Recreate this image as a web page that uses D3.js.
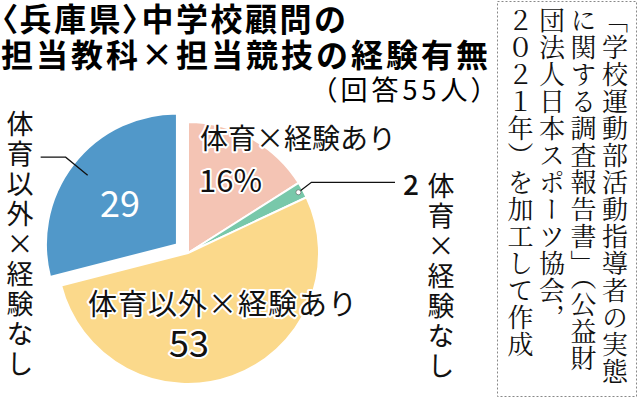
<!DOCTYPE html>
<html>
<head>
<meta charset="utf-8">
<script src="https://cdn.jsdelivr.net/npm/d3@7"></script>
<style>
  body { margin: 0; background: #fff; }
  text { font-family: "Noto Sans CJK JP", sans-serif; }
</style>
</head>
<body>
<script>
// slices, clockwise from 12 o'clock
var categories = ["体育×経験あり", "体育×経験なし", "体育以外×経験あり", "体育以外×経験なし"];
var values = [16, 2, 53, 29];
var valueLabels = ["16%", "2", "53", "29"];
var colors = ["#f4c4b4", "#78c8aa", "#fbd98b", "#5198c9"];

var titleLines = ["〈兵庫県〉中学校顧問の", "担当教科×担当競技の経験有無"];
var subtitle = "（回答55人）";
var sourceLines = ["「学校運動部活動指導者の実態", "に関する調査報告書」（公益財", "団法人日本スポーツ協会，", "２０２１年）を加工して作成"];

var width = 639;
var height = 398;
var radius = 131;
var cx = 188, cy = 253;

var svg = d3.select("body").append("svg")
    .attr("width", width)
    .attr("height", height);

// title
svg.selectAll(".title")
    .data(titleLines)
    .enter().append("text")
    .attr("class", "title")
    .attr("x", 1)
    .attr("y", function(d, i) { return 31 + i * 36; })
    .style("font-size", "32px")
    .style("font-weight", "bold")
    .style("letter-spacing", function(d, i) { return i == 0 ? "2.5px" : "3px"; })
    .style("font-feature-settings", function(d, i) { return i == 0 ? "'palt'" : "normal"; })
    .text(function(d) { return d; });

svg.append("text")
    .attr("x", 489)
    .attr("y", 100)
    .attr("text-anchor", "end")
    .style("font-size", "27px")
    .style("letter-spacing", "4px")
    .style("font-feature-settings", "'palt'")
    .text(subtitle);

// pie
var pie = d3.pie().sort(null).value(function(d) { return d; });
var arcs = pie(values);
var arc = d3.arc().innerRadius(0).outerRadius(radius);
var explode = [0, 0, 0, 14]; // blue slice pulled out

function offset(d, i) {
    var a = (d.startAngle + d.endAngle) / 2;
    return [Math.sin(a) * explode[i], -Math.cos(a) * explode[i]];
}

var g = svg.append("g").attr("transform", "translate(" + cx + "," + cy + ")");

g.selectAll(".slice")
    .data(arcs)
    .enter().append("path")
    .attr("class", "slice")
    .attr("transform", function(d, i) { var o = offset(d, i); return "translate(" + o[0] + "," + o[1] + ")"; })
    .attr("d", arc)
    .attr("fill", function(d, i) { return colors[i]; })
    .attr("stroke", "#fff")
    .attr("stroke-width", 2);

// leader lines
var innerPt = function(d, i, r) {
    var a = (d.startAngle + d.endAngle) / 2;
    var o = offset(d, i);
    return [Math.sin(a) * r + o[0], -Math.cos(a) * r + o[1]];
};
var p1 = innerPt(arcs[1], 1, 126);
var p3 = innerPt(arcs[3], 3, 113);
var line = d3.line();

g.append("path")
    .attr("d", line([p1, [p1[0] + 13, p1[1] - 10], [207, p1[1] - 10]]))
    .attr("fill", "none").attr("stroke", "#111").attr("stroke-width", 1.3);
g.append("circle")
    .attr("cx", p1[0]).attr("cy", p1[1]).attr("r", 2.5)
    .attr("fill", "#fff").attr("stroke", "#555").attr("stroke-width", 0.6);

g.append("path")
    .attr("d", line([p3, [p3[0] - 22, p3[1] - 18], [p3[0] - 47, p3[1] - 18]]))
    .attr("fill", "none").attr("stroke", "#111").attr("stroke-width", 1.3);

// labels with white halo
function halo(sel) {
    sel.attr("stroke", "#fff").attr("stroke-width", 4).attr("stroke-linejoin", "round")
       .style("paint-order", "stroke").attr("fill", "#111");
    return sel;
}

halo(svg.append("text").attr("x", 200).attr("y", 149).style("font-size", "28px").text(categories[0]));
halo(svg.append("text").attr("x", 199).attr("y", 192).style("font-size", "31px").text(valueLabels[0]));
halo(svg.append("text").attr("x", 88).attr("y", 315).style("font-size", "29px").style("letter-spacing", "1px").text(categories[2]));
halo(svg.append("text").attr("x", 189).attr("y", 357).attr("text-anchor", "middle").style("font-size", "36px").text(valueLabels[2]));

svg.append("text").attr("x", 120).attr("y", 217).attr("text-anchor", "middle")
    .style("font-size", "36px").attr("fill", "#fff").text(valueLabels[3]);

svg.append("text").attr("x", 403).attr("y", 195)
    .style("font-size", "28px").style("font-weight", "500").attr("fill", "#111").text(valueLabels[1]);

// vertical labels
function vtext(x, y, size, spacing, s) {
    return svg.append("text")
        .attr("x", x).attr("y", y)
        .style("writing-mode", "vertical-rl")
        .style("font-size", size + "px")
        .style("letter-spacing", spacing + "px")
        .attr("fill", "#111")
        .text(s);
}
vtext(441, 172, 27, 3, categories[1]);
vtext(20, 110, 27, 3, categories[3]);

// source box
svg.append("rect")
    .attr("x", 497.5).attr("y", 1.5)
    .attr("width", 139).attr("height", 395)
    .attr("fill", "none")
    .attr("stroke", "#888")
    .attr("stroke-dasharray", "2,2");

sourceLines.forEach(function(s, i) {
    vtext(615 - i * 31.5, 7, 26, 1, s).style("font-family", "'Noto Serif CJK JP', 'Noto Sans CJK JP', serif");
});
</script>
</body>
</html>
